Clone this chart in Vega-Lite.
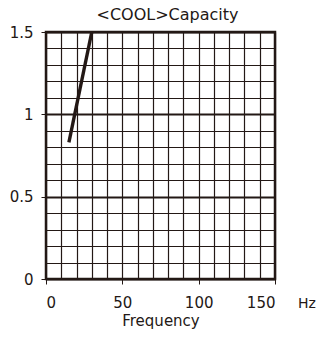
{
  "$schema": "https://vega.github.io/schema/vega-lite/v6.json",
  "width": 229,
  "height": 247,
  "autosize": {"type": "none"},
  "padding": {"left": 46, "top": 32, "right": 45, "bottom": 59},
  "title": {"text": "<COOL>Capacity", "fontSize": 16, "font": "DejaVu Sans", "fontWeight": "normal", "color": "#231815", "offset": 2, "frame": "group", "anchor": "middle", "dx": 7},
  "config": {
    "view": {"stroke": "#231815", "strokeWidth": 2.5},
    "axis": {"labelFont": "DejaVu Sans", "titleFont": "DejaVu Sans", "labelColor": "#231815", "titleColor": "#231815", "domain": false}
  },
  "encoding": {
    "x": {"field": "Frequency", "type": "quantitative", "scale": {"domain": [0, 150], "nice": false},
      "axis": {"values": [0,10,20,30,40,50,60,70,80,90,100,110,120,130,140,150], "labelExpr": "datum.value % 50 == 0 ? format(datum.value, 'd') : ''", "labelFontSize": 15, "labelPadding": 11, "tickColor": "#231815", "tickSize": 5, "tickOpacity": {"condition": {"test": "datum.value % 50 == 0", "value": 1}, "value": 0}, "grid": true, "gridColor": "#231815", "gridOpacity": 1, "gridWidth": 1.2, "title": "Frequency", "titleFontSize": 15, "titleFontWeight": "normal", "titlePadding": 3}},
    "y": {"field": "Capacity", "type": "quantitative", "scale": {"domain": [0, 1.5], "nice": false},
      "axis": {"values": [0,0.1,0.2,0.3,0.4,0.5,0.6,0.7,0.8,0.9,1,1.1,1.2,1.3,1.4,1.5], "labelExpr": "(round(datum.value*10) % 5 == 0) ? format(datum.value, '~g') : ''", "labelFontSize": 15, "labelPadding": 8, "tickColor": "#231815", "tickSize": 5, "tickOpacity": {"condition": {"test": "round(datum.value*10) % 5 == 0", "value": 1}, "value": 0}, "grid": true, "gridColor": "#231815", "gridOpacity": 1, "gridWidth": {"condition": {"test": "round(datum.value*10) % 5 == 0", "value": 2}, "value": 1.2}, "title": null}}
  },
  "layer": [
    {
      "data": {"values": [{"Frequency": 15, "Capacity": 0.83}, {"Frequency": 30, "Capacity": 1.5}]},
      "mark": {"type": "line", "color": "#231815", "strokeWidth": 3.4, "clip": true}
    },
    {
      "data": {"values": [{"Frequency": 150, "Capacity": 0, "unit": "Hz"}]},
      "mark": {"type": "text", "dx": 32, "dy": 25, "fontSize": 14, "font": "DejaVu Sans", "color": "#231815"},
      "encoding": {
        "text": {"field": "unit"}
      }
    }
  ]
}
